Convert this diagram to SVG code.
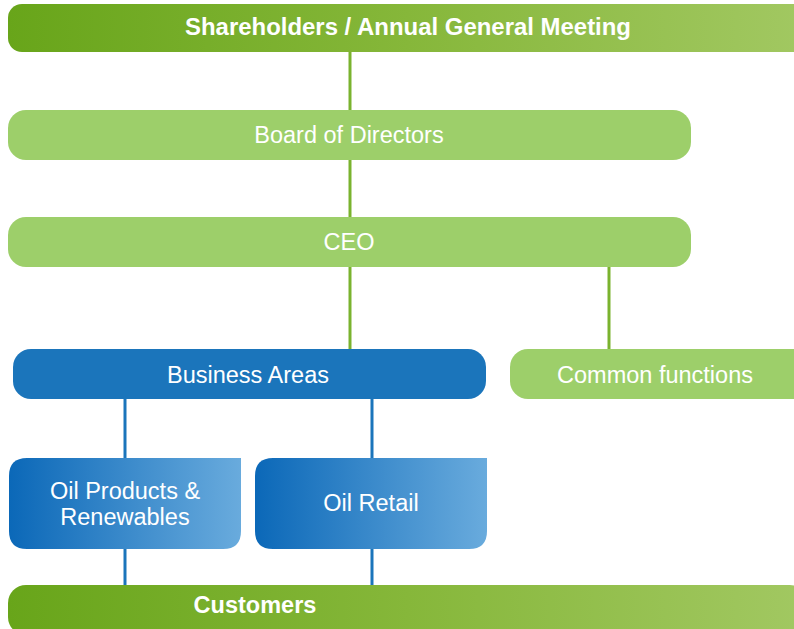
<svg xmlns="http://www.w3.org/2000/svg" width="794" height="629" viewBox="0 0 794 629">
<style>
.t{font-family:"Liberation Sans",Arial,sans-serif;fill:#fff;text-anchor:middle;font-size:23.5px}
.b{font-weight:bold}
.lg{fill:#9dcf6a}
.gl{stroke:#7ab32e;stroke-width:3;fill:none}
.bl{stroke:#1b75bb;stroke-width:3;fill:none}
</style>
<defs>
<linearGradient id="gg" x1="0" y1="0" x2="1" y2="0">
<stop offset="0" stop-color="#68a51a"/>
<stop offset="0.5" stop-color="#86b73a"/>
<stop offset="1" stop-color="#a2c862"/>
</linearGradient>
<linearGradient id="bg" x1="0" y1="0" x2="1" y2="0">
<stop offset="0" stop-color="#0b68b8"/>
<stop offset="1" stop-color="#69abdd"/>
</linearGradient>
</defs>
<g id="connectors">
<line class="gl" x1="350" y1="52" x2="350" y2="112"/>
<line class="gl" x1="350" y1="158" x2="350" y2="219"/>
<line class="gl" x1="350" y1="265" x2="350" y2="351"/>
<line class="gl" x1="609" y1="265" x2="609" y2="351"/>
<line class="bl" x1="125" y1="397" x2="125" y2="460"/>
<line class="bl" x1="372" y1="397" x2="372" y2="460"/>
<line class="bl" x1="125" y1="547" x2="125" y2="587"/>
<line class="bl" x1="372" y1="547" x2="372" y2="587"/>
</g>
<g id="shareholders">
<rect x="8" y="4" width="800" height="48" rx="14" fill="url(#gg)"/>
<text class="t b" x="408" y="35" textLength="446" lengthAdjust="spacingAndGlyphs">Shareholders / Annual General Meeting</text>
</g>
<g id="board">
<rect class="lg" x="8" y="110" width="683" height="50" rx="18"/>
<text class="t" x="349" y="143">Board of Directors</text>
</g>
<g id="ceo">
<rect class="lg" x="8" y="217" width="683" height="50" rx="18"/>
<text class="t" x="349" y="250">CEO</text>
</g>
<g id="business-areas">
<rect x="13" y="349" width="473" height="50" rx="18" fill="#1b75bb"/>
<text class="t" x="248" y="383">Business Areas</text>
</g>
<g id="common-functions">
<rect class="lg" x="510" y="349" width="300" height="50" rx="18"/>
<text class="t" x="655" y="383">Common functions</text>
</g>
<g id="oil-products">
<path d="M27,458 H241 V531 Q241,549 223,549 H27 Q9,549 9,531 V476 Q9,458 27,458 Z" fill="url(#bg)"/>
<text class="t" x="125" y="499">Oil Products &amp;</text>
<text class="t" x="125" y="525">Renewables</text>
</g>
<g id="oil-retail">
<path d="M273,458 H487 V531 Q487,549 469,549 H273 Q255,549 255,531 V476 Q255,458 273,458 Z" fill="url(#bg)"/>
<text class="t" x="371" y="511">Oil Retail</text>
</g>
<g id="customers">
<rect x="8" y="585" width="800" height="50" rx="18" fill="url(#gg)"/>
<text class="t b" x="255" y="613">Customers</text>
</g>
</svg>
